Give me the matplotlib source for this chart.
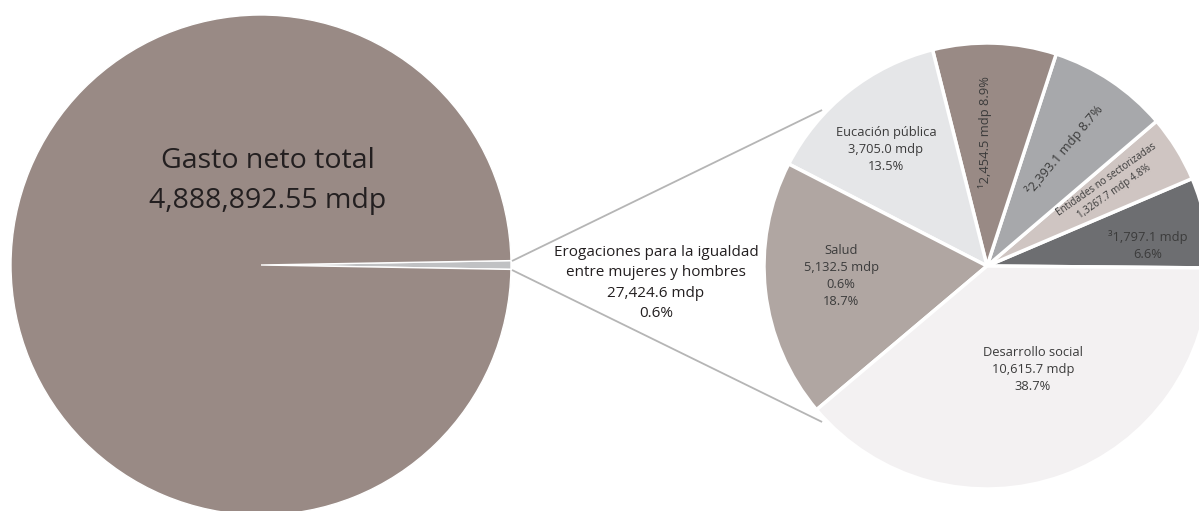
import matplotlib.pyplot as plt
import numpy as np

plt.rcParams['font.family'] = ['Open Sans', 'DejaVu Sans']

# Gasto neto total y erogaciones para la igualdad (mdp)
gasto_total = 4888892.55
igualdad_total = 27424.6

# Distribución de las erogaciones por ramo (mdp), en sentido antihorario
ramos = ['Ramo 3', 'Entidades no sectorizadas', 'Ramo 2', 'Ramo 1',
         'Educación pública', 'Salud', 'Desarrollo social']
montos = [1797.1, 1326.7, 2393.1, 2454.5, 3705.0, 5132.5, 10615.7]
porcentajes = [6.6, 4.8, 8.7, 8.9, 13.5, 18.7, 38.7]

colores = ['#6d6e71', '#cfc5c2', '#a7a8ab', '#998a85',
           '#e5e6e8', '#b0a6a2', '#f3f1f2']

W, H = 1199, 511
fig = plt.figure(figsize=(W / 100, H / 100), dpi=100)
ax = fig.add_axes([0, 0, 1, 1])

# --- pastel principal ---
c1, r1 = (261, H - 265), 250
frac = igualdad_total / gasto_total
ax.pie([igualdad_total, gasto_total - igualdad_total],
       colors=['#c0c1c3', '#998a85'], center=c1, radius=r1,
       startangle=-frac * 180, counterclock=True,
       wedgeprops=dict(edgecolor='white', linewidth=1.0))

# --- pastel de desglose ---
c2, r2 = (987, H - 266), 223
ax.pie(montos, colors=colores, center=c2, radius=r2, startangle=-0.5,
       counterclock=True,
       wedgeprops=dict(edgecolor='white', linewidth=2.5))

# pie() fija sus propios límites; se restablecen al tamaño de la figura
ax.set_xlim(0, W)
ax.set_ylim(0, H)
ax.set_aspect('equal')
ax.axis('off')

ax.text(268, H - 181, 'Gasto neto total\n4,888,892.55 mdp', fontsize=20.5,
        ha='center', va='center', color='#231f20', linespacing=1.55)

# líneas de conexión entre ambos pasteles
for sgn, y0 in [(1, 261), (-1, 270)]:
    ang = np.deg2rad(180 - sgn * 43.4)
    x1 = c2[0] + (r2 + 4) * np.cos(ang)
    y1 = c2[1] + (r2 + 4) * np.sin(ang)
    ax.plot([512, x1], [H - y0, y1], color='#b5b5b5', lw=1.3,
            solid_capstyle='butt')

ax.text(656, H - 283,
        'Erogaciones para la igualdad\nentre mujeres y hombres\n'
        f'{igualdad_total:,.1f} mdp\n{frac * 100:.1f}%',
        fontsize=11, ha='center', va='center', color='#231f20',
        linespacing=1.5)

txt = dict(ha='center', va='center', color='#3b3b3b',
           rotation_mode='anchor', linespacing=1.4)

ax.text(886, H - 149, f'Eucación pública\n{montos[4]:,.1f} mdp\n{porcentajes[4]}%',
        fontsize=9.3, **txt)
ax.text(985, H - 132, f'¹{montos[3]:,.1f} mdp {porcentajes[3]}%',
        fontsize=9.3, rotation=90, **txt)
ax.text(1065, H - 150, f'²{montos[2]:,.1f} mdp {porcentajes[2]}%',
        fontsize=9.3, rotation=50, **txt)
ax.text(1110, H - 186, f'Entidades no sectorizadas\n1,3267.7 mdp {porcentajes[1]}%',
        fontsize=7, rotation=35, **txt)
ax.text(1148, H - 245, f'³{montos[0]:,.1f} mdp\n{porcentajes[0]}%',
        fontsize=9.3, **txt)
ax.text(841, H - 276, f'Salud\n{montos[5]:,.1f} mdp\n0.6%\n{porcentajes[5]}%',
        fontsize=9.3, **txt)
ax.text(1033, H - 369, f'Desarrollo social\n{montos[6]:,.1f} mdp\n{porcentajes[6]}%',
        fontsize=9.3, **txt)

fig.savefig('out.png', dpi=100)
